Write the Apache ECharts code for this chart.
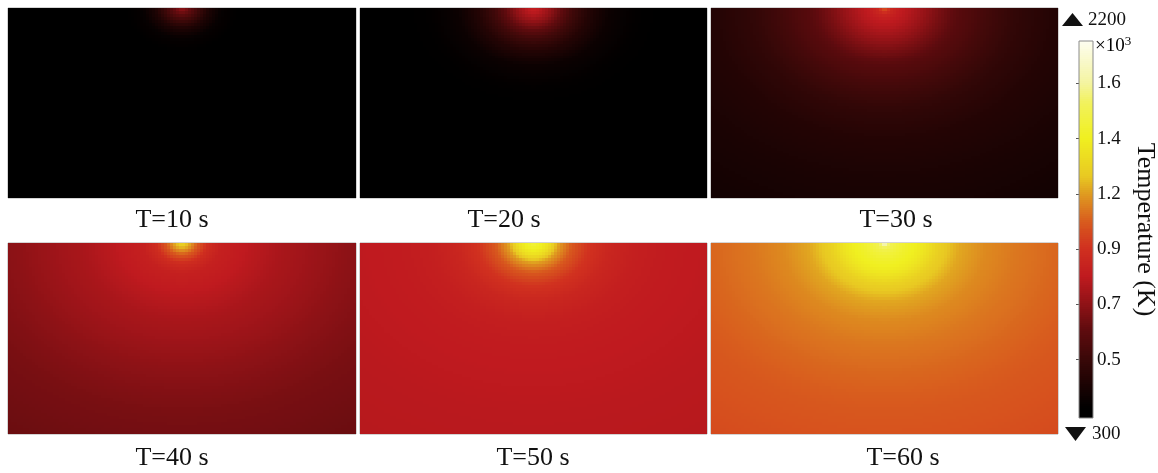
<!DOCTYPE html>
<html>
<head>
<meta charset="utf-8">
<script src="https://cdn.jsdelivr.net/npm/echarts@6/dist/echarts.min.js"></script>
<style>
  html, body { margin: 0; padding: 0; background: #ffffff; }
  #chart { width: 1158px; height: 473px; }
</style>
</head>
<body>
<div id="chart"></div>
<script>
// Snapshot times (s)
const TIMES = [10, 20, 30, 40, 50, 60];
// Distance from the heat source at the top centre of the plate (px, vertical-equivalent)
const RADII = [0, 2, 6, 12, 20, 30, 42, 58, 78, 100, 130, 170, 230];
// Temperature (K) at each distance, one profile per snapshot
const TEMP_10 = [720, 700, 630, 530, 410, 330, 305, 300, 300, 300, 300, 300, 300];
const TEMP_20 = [860, 850, 815, 750, 650, 530, 430, 350, 315, 300, 300, 300, 300];
const TEMP_30 = [1050, 1000, 900, 850, 810, 750, 680, 600, 540, 480, 430, 400, 370];
const TEMP_40 = [1300, 1260, 1180, 1050, 930, 870, 850, 820, 785, 760, 720, 680, 650];
const TEMP_50 = [1460, 1440, 1400, 1330, 1170, 1050, 960, 900, 865, 848, 838, 828, 820];
const TEMP_60 = [2200, 1600, 1500, 1450, 1410, 1360, 1270, 1190, 1140, 1110, 1080, 1050, 1020];
const PROFILES = [TEMP_10, TEMP_20, TEMP_30, TEMP_40, TEMP_50, TEMP_60];
// Colour-bar range (K) and tick values (labelled in 10^3 K)
const COLORBAR_MIN = 270;
const COLORBAR_MAX = 1785;
const COLORBAR_TICKS = [505, 727, 949, 1171, 1393, 1615];

// ---------- layout & style ----------
const FONT = 'Liberation Serif';
const PANELS = [
  { left: 8,   top: 8,   width: 348, height: 190, label: [172, 220] },
  { left: 360, top: 8,   width: 347, height: 190, label: [504, 220] },
  { left: 711, top: 8,   width: 347, height: 190, label: [896, 220] },
  { left: 8,   top: 243, width: 348, height: 191, label: [172, 458] },
  { left: 360, top: 243, width: 347, height: 191, label: [533, 458] },
  { left: 711, top: 243, width: 347, height: 191, label: [903, 458] }
];
const COLS = 116, ROWS = 64;   // field resolution of each panel
const ASPECT = 1.3;            // horizontal stretch of the plate section
const BAR = { left: 1079, top: 41, width: 14, height: 377 };
const BAR_STEPS = 190;

// thermal colour map, stops along the colour bar
const STOPS = [
  [0.000, '#000000'], [0.025, '#000000'], [0.070, '#140202'], [0.156, '#3a0808'],
  [0.233, '#5e0b0e'], [0.300, '#8e1216'], [0.377, '#c01a1f'], [0.448, '#d0301f'],
  [0.520, '#d85a1e'], [0.600, '#e0a020'], [0.640, '#e8c822'], [0.743, '#f0f020'],
  [0.840, '#f2f260'], [0.889, '#f4f4a0'], [1.000, '#fdfdf0']
];
function hex(c) { return [1, 3, 5].map(i => parseInt(c.slice(i, i + 2), 16)); }
function colorAt(t) {
  t = Math.max(0, Math.min(1, t));
  for (let i = 1; i < STOPS.length; i++) {
    if (t <= STOPS[i][0]) {
      const [t0, c0] = STOPS[i - 1], [t1, c1] = STOPS[i];
      const f = (t - t0) / (t1 - t0), a = hex(c0), b = hex(c1);
      return 'rgb(' + a.map((v, k) => Math.round(v + (b[k] - v) * f)).join(',') + ')';
    }
  }
  return STOPS[STOPS.length - 1][1];
}

const DATA_MAX = Math.max(...PROFILES.flat());
const DATA_MIN = Math.min(...PROFILES.flat());
const VMAP_MIN = COLORBAR_MIN, VMAP_MAX = Math.max(DATA_MAX, COLORBAR_MAX);
const VMAP_COLORS = [];
for (let v = VMAP_MIN; v <= VMAP_MAX + 0.01; v += 10) {
  VMAP_COLORS.push(colorAt((v - COLORBAR_MIN) / (COLORBAR_MAX - COLORBAR_MIN)));
}

// temperature along a radial profile
function profileAt(profile, r) {
  if (r >= RADII[RADII.length - 1]) return profile[profile.length - 1];
  for (let i = 1; i < RADII.length; i++) {
    if (r <= RADII[i]) {
      const f = (r - RADII[i - 1]) / (RADII[i] - RADII[i - 1]);
      return profile[i - 1] + (profile[i] - profile[i - 1]) * f;
    }
  }
}

function fieldData(profile, panel) {
  const cw = panel.width / COLS, ch = panel.height / ROWS;
  const out = [];
  for (let c = 0; c < COLS; c++) {
    for (let r = 0; r < ROWS; r++) {
      const dx = (c + 0.5 - COLS / 2) * cw / ASPECT;
      const dy = (r + 0.5) * ch;
      out.push([c, r, Math.round(profileAt(profile, Math.sqrt(dx * dx + dy * dy)))]);
    }
  }
  return out;
}

// one filled cell spanning [x, x+1] x [y, y+1] in axis units, edges snapped to whole pixels
function renderCell(params, api) {
  const a = api.coord([api.value(0), api.value(1)]);
  const b = api.coord([api.value(0) + 1, api.value(1) + 1]);
  const x0 = Math.round(Math.min(a[0], b[0])), x1 = Math.round(Math.max(a[0], b[0]));
  const y0 = Math.round(Math.min(a[1], b[1])), y1 = Math.round(Math.max(a[1], b[1]));
  return { type: 'rect', shape: { x: x0, y: y0, width: x1 - x0, height: y1 - y0 },
           style: { fill: api.visual('color') } };
}
// one colour-bar step from value lo to hi
function renderBarStep(params, api) {
  const a = api.coord([0, api.value(1)]);
  const b = api.coord([1, api.value(3)]);
  const x0 = Math.round(Math.min(a[0], b[0])), x1 = Math.round(Math.max(a[0], b[0]));
  const y0 = Math.round(Math.min(a[1], b[1])), y1 = Math.round(Math.max(a[1], b[1]));
  return { type: 'rect', shape: { x: x0, y: y0, width: x1 - x0, height: Math.max(1, y1 - y0) },
           style: { fill: api.visual('color') } };
}

const grid = [], xAxis = [], yAxis = [], series = [], graphic = [];
PANELS.forEach((p, i) => {
  grid.push({ left: p.left, top: p.top, width: p.width, height: p.height, outerBoundsMode: 'none',
    show: true, borderColor: '#a8a8a8', borderWidth: 1, backgroundColor: 'transparent' });
  xAxis.push({ type: 'value', gridIndex: i, min: 0, max: COLS, show: false });
  yAxis.push({ type: 'value', gridIndex: i, min: 0, max: ROWS, inverse: true, show: false });
  series.push({
    type: 'custom', name: 'T=' + TIMES[i] + ' s', xAxisIndex: i, yAxisIndex: i,
    renderItem: renderCell, data: fieldData(PROFILES[i], p), silent: true,
    encode: { x: 0, y: 1 }, z: 1
  });
  graphic.push({
    type: 'text', x: p.label[0], y: p.label[1],
    style: { text: 'T=' + TIMES[i] + ' s', font: '26px "' + FONT + '"', fill: '#111',
      align: 'center', verticalAlign: 'middle', textAlign: 'center', textVerticalAlign: 'middle' }
  });
});

// colour bar
const barIdx = PANELS.length;
const barData = [];
for (let i = 0; i < BAR_STEPS; i++) {
  const lo = COLORBAR_MIN + i / BAR_STEPS * (COLORBAR_MAX - COLORBAR_MIN);
  const hi = COLORBAR_MIN + (i + 1) / BAR_STEPS * (COLORBAR_MAX - COLORBAR_MIN);
  barData.push([0, lo, (lo + hi) / 2, hi]);
}
grid.push({ left: BAR.left, top: BAR.top, width: BAR.width, height: BAR.height, outerBoundsMode: 'none',
  show: true, borderColor: '#8a8a8a', borderWidth: 1, backgroundColor: 'transparent', z: 3 });
xAxis.push({ type: 'value', gridIndex: barIdx, min: 0, max: 1, show: false });
yAxis.push({
  type: 'value', gridIndex: barIdx, position: 'right', min: COLORBAR_MIN, max: COLORBAR_MAX,
  axisLine: { show: false }, splitLine: { show: false },
  axisTick: { show: true, inside: true, length: 3, customValues: COLORBAR_TICKS,
    lineStyle: { color: '#555', width: 1 } },
  axisLabel: { customValues: COLORBAR_TICKS, formatter: v => (v / 1000).toFixed(1),
    margin: 4, fontSize: 19, fontFamily: FONT, color: '#111' },
  name: 'Temperature (K)', nameLocation: 'middle', nameRotate: -90, nameGap: 39,
  nameTextStyle: { fontSize: 26, fontFamily: FONT, color: '#111' }
});
series.push({
  type: 'custom', name: 'colour bar', xAxisIndex: barIdx, yAxisIndex: barIdx, silent: true,
  renderItem: renderBarStep, data: barData, encode: { x: 0, y: [1, 3] }, z: 1
});

// range markers: data maximum and minimum
graphic.push(
  { type: 'polygon', shape: { points: [[1062, 26], [1083, 26], [1072.5, 13]] }, style: { fill: '#111' } },
  { type: 'text', x: 1088, y: 20, style: { text: String(DATA_MAX), font: '19px "' + FONT + '"', fill: '#111',
      verticalAlign: 'middle', textVerticalAlign: 'middle' } },
  { type: 'polygon', shape: { points: [[1065, 427], [1086, 427], [1075.5, 441]] }, style: { fill: '#111' } },
  { type: 'text', x: 1092, y: 434, style: { text: String(DATA_MIN), font: '19px "' + FONT + '"', fill: '#111',
      verticalAlign: 'middle', textVerticalAlign: 'middle' } },
  { type: 'text', x: 1095, y: 46, style: {
      text: '{a|×10}{s|3}', verticalAlign: 'middle', textVerticalAlign: 'middle',
      rich: { a: { fontSize: 19, fontFamily: FONT, color: '#111' },
              s: { fontSize: 13, fontFamily: FONT, color: '#111', verticalAlign: 'top', padding: [0, 0, 8, 0] } } } }
);

const chart = echarts.init(document.getElementById('chart'), null, { renderer: 'canvas' });
chart.setOption({
  animation: false,
  backgroundColor: '#ffffff',
  grid, xAxis, yAxis, series, graphic,
  visualMap: {
    type: 'continuous', show: false, min: VMAP_MIN, max: VMAP_MAX, dimension: 2,
    inRange: { color: VMAP_COLORS }
  }
});
</script>
</body>
</html>
